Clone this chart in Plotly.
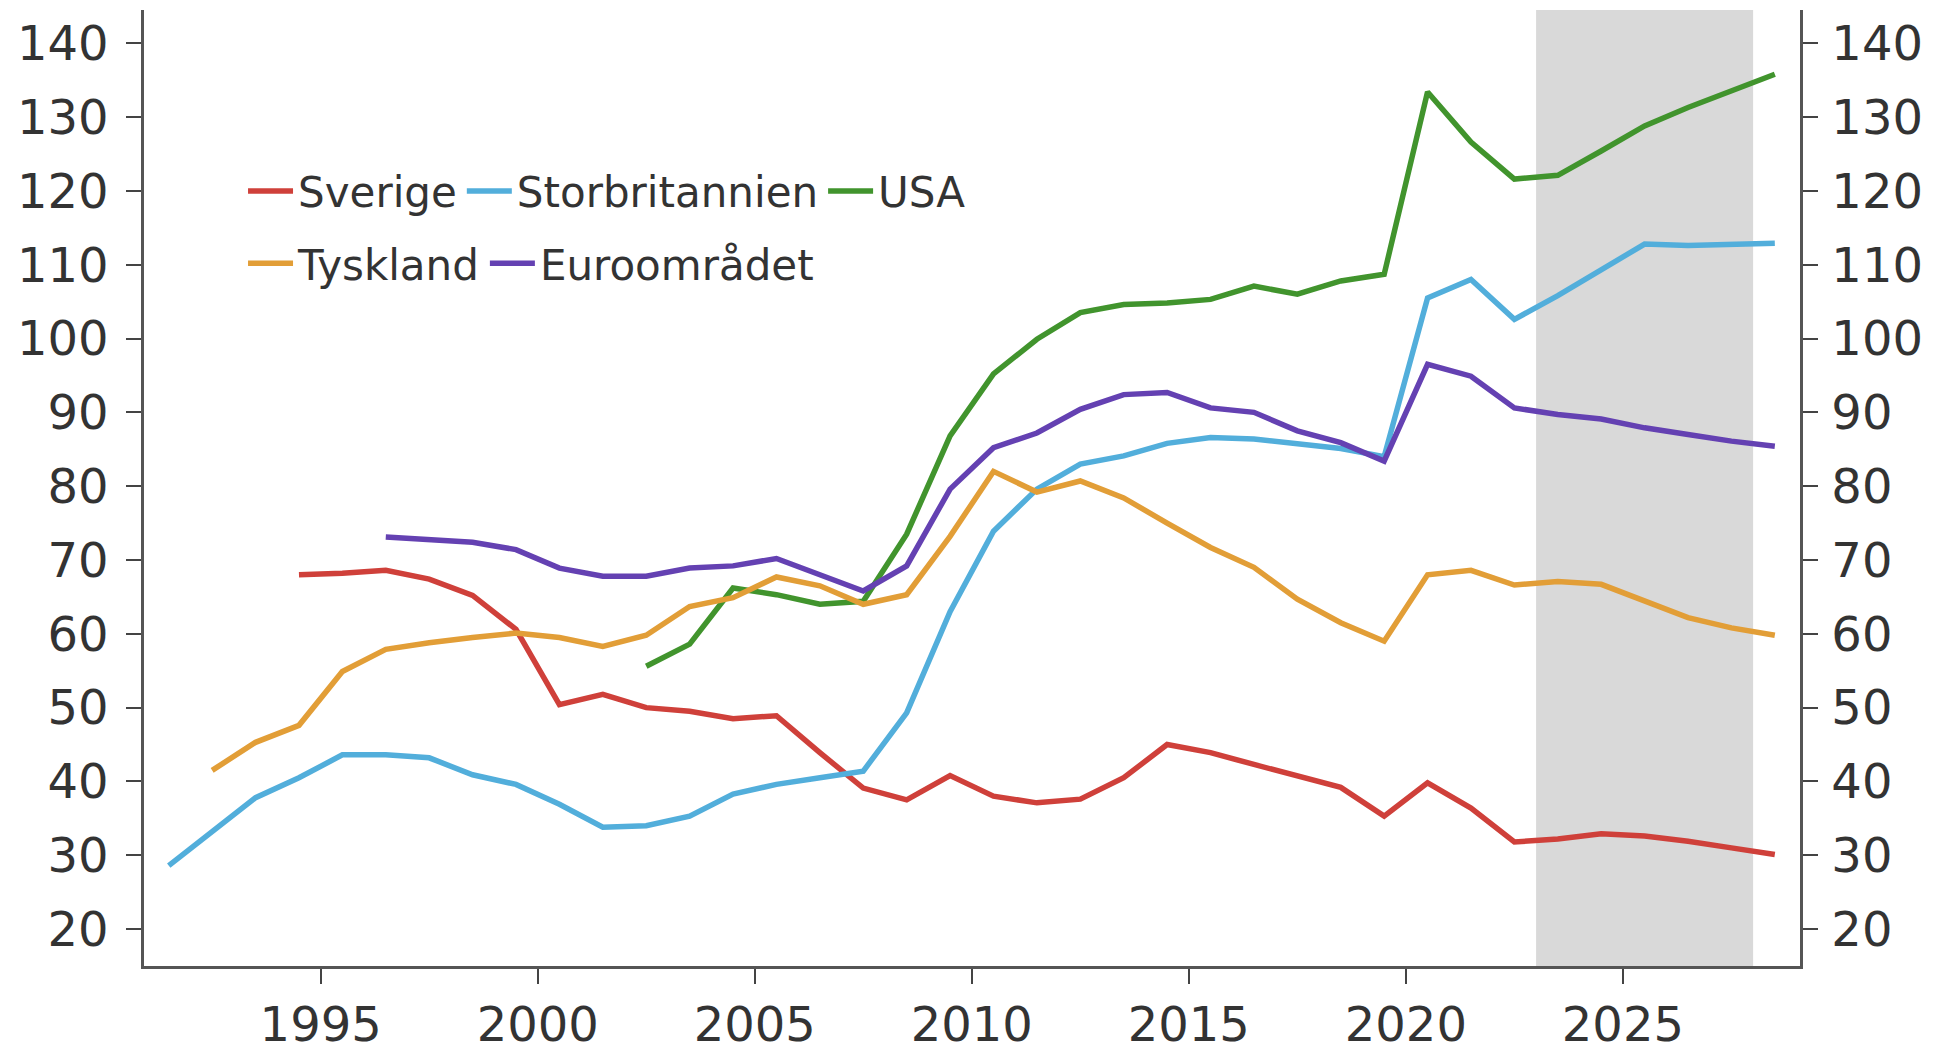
import plotly.graph_objects as go

# ---- data (year, value) ----
years_se = list(range(1994, 2029))
sverige = [68.0, 68.2, 68.6, 67.4, 65.2, 60.6, 50.4, 51.8, 50.0, 49.5, 48.5, 48.9, 43.9, 39.1,
           37.5, 40.8, 38.0, 37.1, 37.6, 40.5, 45.0, 43.9, 42.3, 40.7, 39.2, 35.3, 39.8, 36.4,
           31.8, 32.2, 32.9, 32.6, 31.9, 31.0, 30.1]

years_uk = list(range(1991, 2029))
storbritannien = [28.6, 33.2, 37.8, 40.5, 43.6, 43.6, 43.2, 40.9, 39.6, 36.9, 33.8, 34.0, 35.3,
                  38.3, 39.6, 40.5, 41.4, 49.3, 63.0, 73.9, 79.6, 83.0, 84.1, 85.8, 86.6, 86.4,
                  85.7, 85.1, 84.0, 105.5, 108.0, 102.6, 105.8, 109.4, 112.8, 112.6, 112.7, 112.9]

years_us = list(range(2002, 2029))
usa = [55.6, 58.6, 66.2, 65.3, 64.0, 64.4, 73.5, 86.8, 95.2, 99.9, 103.5, 104.6, 104.8, 105.3,
       107.1, 106.0, 107.8, 108.7, 133.4, 126.6, 121.6, 122.1, 125.4, 128.8, 131.3, 133.6, 135.8]

years_de = list(range(1992, 2029))
tyskland = [41.5, 45.3, 47.6, 54.9, 57.9, 58.8, 59.5, 60.1, 59.5, 58.3, 59.8, 63.7, 64.9, 67.7,
            66.5, 64.0, 65.3, 73.2, 82.0, 79.2, 80.7, 78.4, 75.0, 71.7, 69.0, 64.7, 61.5, 59.0,
            68.0, 68.6, 66.6, 67.1, 66.7, 64.4, 62.2, 60.8, 59.8]

years_ea = list(range(1996, 2029))
euroomradet = [73.1, 72.7, 72.4, 71.4, 68.9, 67.8, 67.8, 68.9, 69.2, 70.2, 68.0, 65.8, 69.2, 79.6,
               85.2, 87.2, 90.4, 92.4, 92.7, 90.6, 90.0, 87.5, 85.9, 83.4, 96.5, 94.9, 90.6, 89.7,
               89.1, 87.9, 87.0, 86.1, 85.4]

forecast_start, forecast_end = 2023, 2028
y_ticks = [20, 30, 40, 50, 60, 70, 80, 90, 100, 110, 120, 130, 140]
x_ticks = [1995, 2000, 2005, 2010, 2015, 2020, 2025]

series = [
    ("Sverige", years_se, sverige, "#cf403a", "legend", "y"),
    ("Storbritannien", years_uk, storbritannien, "#52aedb", "legend", "y"),
    ("USA", years_us, usa, "#41942d", "legend", "y"),
    ("Tyskland", years_de, tyskland, "#e29e37", "legend2", "y"),
    ("Euroområdet", years_ea, euroomradet, "#6441b2", "legend2", "y2"),
]

fig = go.Figure()
for name, yrs, vals, col, leg, yax in series:
    fig.add_trace(go.Scatter(
        x=[y + 0.5 for y in yrs], y=vals, name=name, mode="lines", yaxis=yax,
        line=dict(color=col, width=5.5), legend=leg))

fig.add_shape(type="rect", xref="x", yref="paper", x0=forecast_start, x1=forecast_end,
              y0=0, y1=1, fillcolor="#d9d9d9", line_width=0, layer="below")

font_family = "DejaVu Sans, sans-serif"
tick_font = dict(family=font_family, size=48, color="#333333")
yr = [15.0, 144.5]
axis_common = dict(ticks="outside", ticklen=15, tickwidth=2, tickcolor="#444444",
                   showline=True, linecolor="#555555", linewidth=2.5, showgrid=False,
                   zeroline=False, tickfont=tick_font, automargin=False)
legend_font = dict(family=font_family, size=42, color="#333333")

fig.update_layout(
    width=1934, height=1050,
    margin=dict(l=136, r=142, t=2, b=92),
    paper_bgcolor="white", plot_bgcolor="white",
    font=dict(family=font_family, color="#333333"),
    xaxis=dict(range=[1990.93, 2029.08], tickvals=x_ticks, **axis_common),
    yaxis=dict(range=yr, tickvals=y_ticks, ticklabelstandoff=8, **axis_common),
    yaxis2=dict(range=yr, tickvals=y_ticks, overlaying="y", side="right", matches="y",
                ticklabelstandoff=4, **axis_common),
    legend=dict(orientation="h", x=0.0598, y=0.8105, xanchor="left", yanchor="middle",
                font=legend_font, bgcolor="rgba(0,0,0,0)", itemwidth=45, tracegroupgap=0),
    legend2=dict(orientation="h", x=0.0598, y=0.735, xanchor="left", yanchor="middle",
                 font=legend_font, bgcolor="rgba(0,0,0,0)", itemwidth=45, tracegroupgap=0),
    showlegend=True,
)

fig.write_html("out.html")
